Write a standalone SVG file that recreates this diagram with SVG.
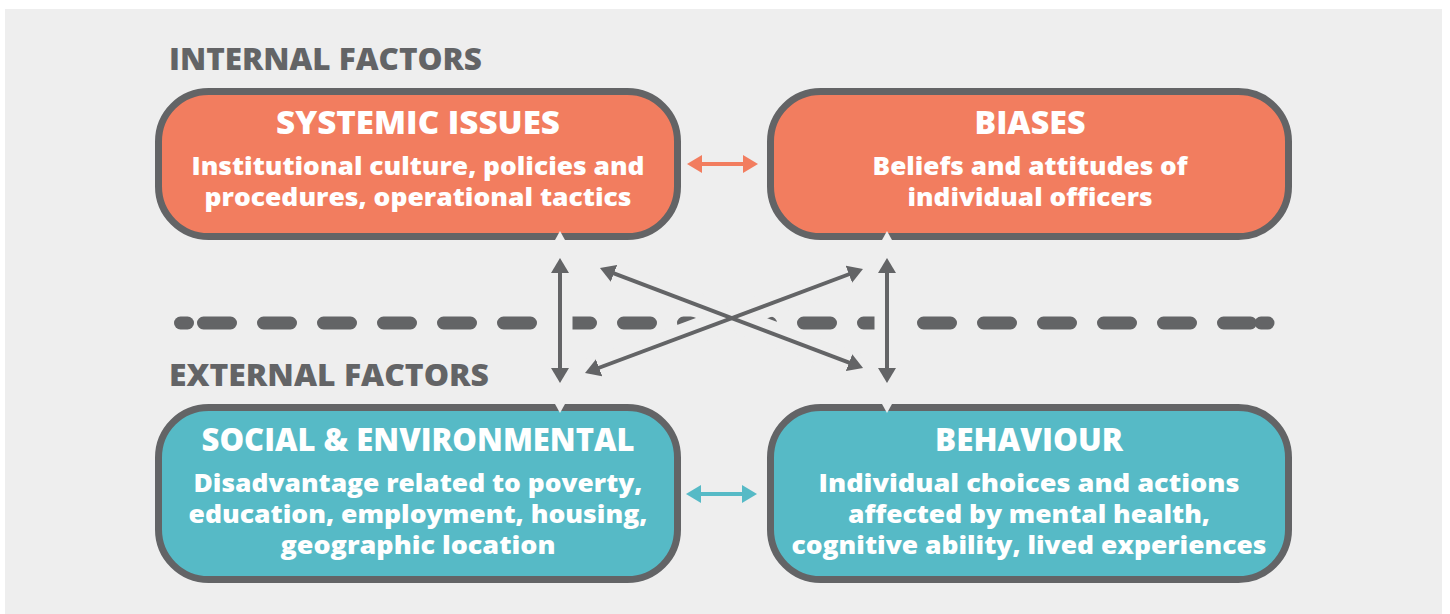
<svg xmlns="http://www.w3.org/2000/svg" width="1450" height="614" viewBox="0 0 1450 614">
  <style>
    .bg { fill: #EEEEEE; }
    .box { stroke: #636466; stroke-width: 7; }
    .orange { fill: #F27D5F; }
    .teal { fill: #56BAC6; }
    .head { font-family: "Open Sans", "Liberation Sans", sans-serif; font-weight: 800; font-size: 30px; fill: #636466; }
    .title { font-family: "Open Sans", "Liberation Sans", sans-serif; font-weight: 800; font-size: 31px; fill: #FFFFFF; text-anchor: middle; }
    .body { font-family: "Open Sans", "Liberation Sans", sans-serif; font-weight: 800; font-size: 25px; fill: #FFFFFF; text-anchor: middle; }
    .halo { stroke: #EEEEEE; stroke-width: 25; fill: none; }
    .garrow { stroke: #636466; stroke-width: 4; fill: none; marker-start: url(#gh); marker-end: url(#gh); }
    .oarrow { stroke: #F27D5F; stroke-width: 4; fill: none; marker-start: url(#oh); marker-end: url(#oh); }
    .tarrow { stroke: #56BAC6; stroke-width: 4; fill: none; marker-start: url(#th); marker-end: url(#th); }
    .notch { fill: #EEEEEE; }
  </style>
  <defs>
    <marker id="gh" markerUnits="userSpaceOnUse" markerWidth="16" markerHeight="20" viewBox="0 0 16 20" refX="5" refY="10" orient="auto-start-reverse">
      <path d="M0,1 L15,10 L0,19 z" fill="#636466"/>
    </marker>
    <marker id="oh" markerUnits="userSpaceOnUse" markerWidth="16" markerHeight="20" viewBox="0 0 16 20" refX="5" refY="10" orient="auto-start-reverse">
      <path d="M0,1 L15,10 L0,19 z" fill="#F27D5F"/>
    </marker>
    <marker id="th" markerUnits="userSpaceOnUse" markerWidth="16" markerHeight="20" viewBox="0 0 16 20" refX="5" refY="10" orient="auto-start-reverse">
      <path d="M0,1 L15,10 L0,19 z" fill="#56BAC6"/>
    </marker>
  </defs>

  <rect x="0" y="0" width="1450" height="614" fill="#FFFFFF"/>
  <rect class="bg" x="5" y="9" width="1437" height="605"/>

  <g id="label-internal">
    <text class="head" x="169" y="70" textLength="313" lengthAdjust="spacingAndGlyphs">INTERNAL FACTORS</text>
  </g>
  <g id="label-external">
    <text class="head" x="169" y="386" textLength="320" lengthAdjust="spacingAndGlyphs">EXTERNAL FACTORS</text>
  </g>

  <g id="divider">
    <path d="M203.5,323 H1262" stroke="#636466" stroke-width="13" stroke-linecap="round" stroke-dasharray="27 33" fill="none"/>
    <path d="M180.5,323 H187.5" stroke="#636466" stroke-width="13" stroke-linecap="round"/>
    <path d="M1261,323 H1268" stroke="#636466" stroke-width="13" stroke-linecap="round"/>
  </g>

  <g id="systemic-issues">
    <rect class="box orange" x="158.5" y="91.5" width="519" height="145" rx="50"/>
    <text class="title" x="418" y="134" textLength="284" lengthAdjust="spacingAndGlyphs">SYSTEMIC ISSUES</text>
    <text class="body" x="418" y="175" textLength="453" lengthAdjust="spacingAndGlyphs">Institutional culture, policies and</text>
    <text class="body" x="418" y="206" textLength="427" lengthAdjust="spacingAndGlyphs">procedures, operational tactics</text>
  </g>

  <g id="biases">
    <rect class="box orange" x="770.5" y="91.5" width="518" height="145" rx="50"/>
    <text class="title" x="1030" y="134" textLength="111" lengthAdjust="spacingAndGlyphs">BIASES</text>
    <text class="body" x="1030" y="175" textLength="315" lengthAdjust="spacingAndGlyphs">Beliefs and attitudes of</text>
    <text class="body" x="1030" y="206" textLength="245" lengthAdjust="spacingAndGlyphs">individual officers</text>
  </g>

  <g id="social-environmental">
    <rect class="box teal" x="158.5" y="407.5" width="519" height="172" rx="50"/>
    <text class="title" x="418" y="451" textLength="433" lengthAdjust="spacingAndGlyphs">SOCIAL &amp; ENVIRONMENTAL</text>
    <text class="body" x="418" y="492" textLength="449" lengthAdjust="spacingAndGlyphs">Disadvantage related to poverty,</text>
    <text class="body" x="418" y="523" textLength="459" lengthAdjust="spacingAndGlyphs">education, employment, housing,</text>
    <text class="body" x="418" y="554" textLength="275" lengthAdjust="spacingAndGlyphs">geographic location</text>
  </g>

  <g id="behaviour">
    <rect class="box teal" x="770.5" y="407.5" width="518" height="172" rx="50"/>
    <text class="title" x="1029" y="451" textLength="188" lengthAdjust="spacingAndGlyphs">BEHAVIOUR</text>
    <text class="body" x="1029" y="492" textLength="421" lengthAdjust="spacingAndGlyphs">Individual choices and actions</text>
    <text class="body" x="1029" y="523" textLength="362" lengthAdjust="spacingAndGlyphs">affected by mental health,</text>
    <text class="body" x="1029" y="554" textLength="475" lengthAdjust="spacingAndGlyphs">cognitive ability, lived experiences</text>
  </g>

  <g id="connectors">
    <g id="halos">
      <path class="halo" d="M560,262 V379"/>
      <path class="halo" d="M887,262 V379"/>
      <path class="halo" d="M604,270 L859,366"/>
      <path class="halo" d="M859,271 L589,371"/>
    </g>
    <polygon class="notch" points="555,240 560,231 565,240"/>
    <polygon class="notch" points="882,240 887,231 892,240"/>
    <polygon class="notch" points="555,404 560,413 565,404"/>
    <polygon class="notch" points="882,404 887,413 892,404"/>
    <path class="garrow" d="M560,268 V373"/>
    <path class="garrow" d="M887,268 V373"/>
    <path class="garrow" d="M609.3,271.6 L853.7,364.4"/>
    <path class="garrow" d="M853.6,272.5 L594.4,369.5"/>
    <path class="oarrow" d="M697,164 H748"/>
    <path class="tarrow" d="M696,494 H747"/>
  </g>
</svg>
